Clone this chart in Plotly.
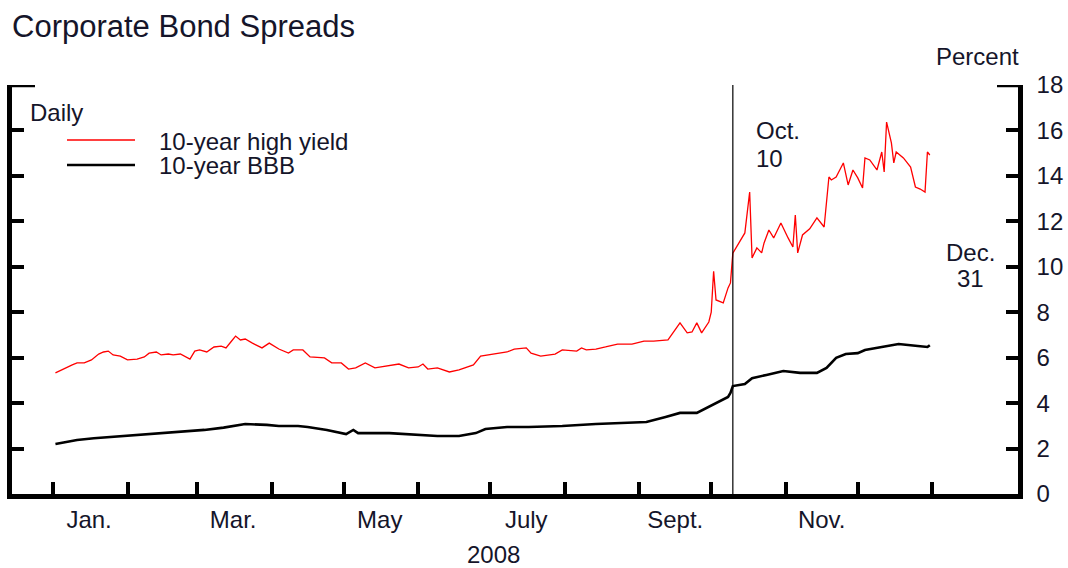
"""Corporate bond spreads, 2008 (daily)."""

import plotly.graph_objects as go

HY_DATES = [
    "2008-01-02", "2008-01-06", "2008-01-09", "2008-01-11", "2008-01-14", "2008-01-17",
    "2008-01-20", "2008-01-22", "2008-01-24", "2008-01-26", "2008-01-29", "2008-02-01",
    "2008-02-05", "2008-02-08", "2008-02-10", "2008-02-13", "2008-02-15", "2008-02-18",
    "2008-02-20", "2008-02-23", "2008-02-27", "2008-02-29", "2008-03-02", "2008-03-05",
    "2008-03-08", "2008-03-11", "2008-03-13", "2008-03-15", "2008-03-17", "2008-03-19",
    "2008-03-21", "2008-03-24", "2008-03-28", "2008-03-31", "2008-04-04", "2008-04-08",
    "2008-04-10", "2008-04-14", "2008-04-17", "2008-04-23", "2008-04-26", "2008-04-30",
    "2008-05-03", "2008-05-06", "2008-05-10", "2008-05-14", "2008-05-18", "2008-05-24",
    "2008-05-28", "2008-06-01", "2008-06-03", "2008-06-05", "2008-06-09", "2008-06-14",
    "2008-06-18", "2008-06-22", "2008-06-24", "2008-06-27", "2008-06-30", "2008-07-04",
    "2008-07-08", "2008-07-11", "2008-07-16", "2008-07-18", "2008-07-22", "2008-07-28",
    "2008-07-31", "2008-08-06", "2008-08-08", "2008-08-10", "2008-08-14", "2008-08-18",
    "2008-08-23", "2008-08-29", "2008-09-03", "2008-09-07", "2008-09-13", "2008-09-18",
    "2008-09-21", "2008-09-23", "2008-09-25", "2008-09-27", "2008-09-30", "2008-10-01",
    "2008-10-02", "2008-10-03", "2008-10-06", "2008-10-08", "2008-10-09", "2008-10-10",
    "2008-10-15", "2008-10-17", "2008-10-18", "2008-10-20", "2008-10-22", "2008-10-23",
    "2008-10-25", "2008-10-27", "2008-10-30", "2008-11-02", "2008-11-04", "2008-11-05",
    "2008-11-06", "2008-11-08", "2008-11-11", "2008-11-14", "2008-11-17", "2008-11-19",
    "2008-11-20", "2008-11-22", "2008-11-25", "2008-11-27", "2008-11-29", "2008-12-01",
    "2008-12-03", "2008-12-04", "2008-12-06", "2008-12-09", "2008-12-11", "2008-12-12",
    "2008-12-13", "2008-12-15", "2008-12-16", "2008-12-17", "2008-12-20", "2008-12-23",
    "2008-12-25", "2008-12-27", "2008-12-29", "2008-12-30", "2008-12-31",
]
HY_VALUES = [
    5.33, 5.55, 5.68, 5.77, 5.77, 5.90,
    6.16, 6.25, 6.29, 6.12, 6.07, 5.90,
    5.94, 6.03, 6.20, 6.25, 6.12, 6.16,
    6.12, 6.16, 5.94, 6.29, 6.34, 6.25,
    6.47, 6.51, 6.43, 6.69, 6.95, 6.78,
    6.82, 6.64, 6.43, 6.64, 6.38, 6.20,
    6.34, 6.34, 6.03, 5.99, 5.77, 5.77,
    5.50, 5.55, 5.77, 5.55, 5.63, 5.72,
    5.55, 5.59, 5.72, 5.50, 5.55, 5.37,
    5.46, 5.59, 5.68, 6.07, 6.12, 6.20,
    6.25, 6.38, 6.43, 6.20, 6.07, 6.16,
    6.34, 6.29, 6.43, 6.34, 6.38, 6.47,
    6.60, 6.60, 6.73, 6.73, 6.78, 7.53,
    7.09, 7.13, 7.53, 7.09, 7.57, 8.00,
    9.80, 8.54, 8.41, 9.07, 9.29, 10.60,
    11.49, 13.29, 10.39, 10.83, 10.61, 11.05,
    11.62, 11.27, 11.93, 11.27, 10.87, 12.28,
    10.61, 11.40, 11.67, 12.15, 11.75, 13.95,
    13.82, 13.95, 14.57, 13.60, 14.26, 13.91,
    13.47, 14.79, 14.70, 14.26, 15.05, 14.17,
    16.37, 15.45, 14.57, 15.05, 14.79, 14.39,
    13.51, 13.42, 13.29, 15.05, 14.92,
]

BBB_DATES = [
    "2008-01-02", "2008-01-11", "2008-01-18", "2008-01-25", "2008-02-04", "2008-02-17",
    "2008-03-04", "2008-03-12", "2008-03-21", "2008-03-30", "2008-04-04", "2008-04-12",
    "2008-04-16", "2008-04-24", "2008-05-02", "2008-05-05", "2008-05-07", "2008-05-20",
    "2008-06-01", "2008-06-09", "2008-06-18", "2008-06-25", "2008-06-29", "2008-07-08",
    "2008-07-17", "2008-07-31", "2008-08-14", "2008-08-28", "2008-09-04", "2008-09-12",
    "2008-09-18", "2008-09-25", "2008-09-30", "2008-10-04", "2008-10-08", "2008-10-09",
    "2008-10-10", "2008-10-15", "2008-10-18", "2008-10-24", "2008-10-31", "2008-11-07",
    "2008-11-14", "2008-11-18", "2008-11-22", "2008-11-26", "2008-12-01", "2008-12-04",
    "2008-12-11", "2008-12-18", "2008-12-26", "2008-12-30", "2008-12-31",
]
BBB_VALUES = [
    2.20, 2.38, 2.45, 2.51, 2.60, 2.68,
    2.82, 2.92, 3.08, 3.04, 2.99, 2.99,
    2.95, 2.82, 2.64, 2.82, 2.68, 2.68,
    2.60, 2.55, 2.55, 2.68, 2.86, 2.95,
    2.95, 2.99, 3.08, 3.12, 3.17, 3.39,
    3.57, 3.57, 3.83, 4.05, 4.27, 4.45,
    4.75, 4.84, 5.10, 5.24, 5.41, 5.33,
    5.33, 5.55, 5.99, 6.16, 6.20, 6.34,
    6.47, 6.60, 6.51, 6.47, 6.55,
]

MONTH_STARTS = [f"2008-{m:02d}-01" for m in range(1, 13)] + ["2009-01-01"]
LABEL_DATES = ["2008-01-16", "2008-03-16", "2008-05-16", "2008-07-16", "2008-09-16", "2008-11-16"]
LABEL_TEXT = ["Jan.", "Mar.", "May", "July", "Sept.", "Nov."]
Y_TICKS = list(range(0, 19, 2))

EVENT_DATE = "2008-10-10"

FONT = "Arial, 'Liberation Sans', sans-serif"
TEXT = "#15152a"

# plot area in page pixels: x 12..1018, y 85..494
W, H = 1068, 568
L, R, T, B = 12, 1018, 85, 494


def px(x):
    return (x - L) / (R - L)


def py(y):
    return (B - y) / (B - T)


fig = go.Figure()

fig.add_trace(go.Scatter(
    x=HY_DATES, y=HY_VALUES, mode="lines",
    line=dict(color="#ff0000", width=1.3),
    name="10-year high yield",
))
fig.add_trace(go.Scatter(
    x=BBB_DATES, y=BBB_VALUES, mode="lines",
    line=dict(color="#000000", width=2.6),
    name="10-year BBB",
))

shapes = [
    # Oct. 10 marker
    dict(type="line", xref="x", yref="y", x0=EVENT_DATE, x1=EVENT_DATE, y0=0, y1=18,
         line=dict(color="black", width=1.2)),
    # longer top ticks
    dict(type="line", xref="paper", yref="y", x0=0, x1=px(35), y0=18, y1=18,
         line=dict(color="black", width=4.5)),
    dict(type="line", xref="paper", yref="y", x0=px(997), x1=1, y0=18, y1=18,
         line=dict(color="black", width=4.5)),
    # legend keys
    dict(type="line", xref="paper", yref="paper", x0=px(67), x1=px(135), y0=py(140), y1=py(140),
         line=dict(color="#ff0000", width=1.3)),
    dict(type="line", xref="paper", yref="paper", x0=px(67), x1=px(135), y0=py(165), y1=py(165),
         line=dict(color="black", width=2.6)),
]

font = dict(family=FONT, size=24, color=TEXT)
annotations = [
    dict(text="Corporate Bond Spreads", x=px(10), y=py(27), xanchor="left", yanchor="middle",
         font=dict(family=FONT, size=31, color=TEXT)),
    dict(text="Percent", x=px(977), y=py(57), xanchor="center", yanchor="middle", font=font),
    dict(text="Daily", x=px(28), y=py(112), xanchor="left", yanchor="middle", font=font),
    dict(text="10-year high yield", x=px(157), y=py(141), xanchor="left", yanchor="middle", font=font),
    dict(text="10-year BBB", x=px(157), y=py(165), xanchor="left", yanchor="middle", font=font),
    dict(text="Oct.", x=px(754), y=py(130), xanchor="left", yanchor="middle", font=font),
    dict(text="10", x=px(754), y=py(159), xanchor="left", yanchor="middle", font=font),
    dict(text="Dec.", x=px(970), y=py(252), xanchor="center", yanchor="middle", font=font),
    dict(text="31", x=px(970), y=py(278), xanchor="center", yanchor="middle", font=font),
    dict(text="2008", x=px(493), y=py(554), xanchor="center", yanchor="middle", font=font),
]
for a in annotations:
    a.update(xref="paper", yref="paper", showarrow=False)

fig.update_layout(
    width=W, height=H,
    margin=dict(l=L, r=W - R, t=T, b=H - B, autoexpand=False),
    paper_bgcolor="white", plot_bgcolor="white",
    showlegend=False,
    font=dict(family=FONT, size=24, color=TEXT),
    shapes=shapes,
    annotations=annotations,
    xaxis=dict(
        type="date",
        range=["2007-12-14 22:00", "2009-02-05 17:00"],
        automargin=False,
        showgrid=False, zeroline=False,
        showline=True, linecolor="black", linewidth=4.5,
        tickmode="array", tickvals=LABEL_DATES, ticktext=LABEL_TEXT,
        ticks="", ticklabelstandoff=0,
        tickfont=dict(family=FONT, size=24, color=TEXT),
        minor=dict(tickmode="array", tickvals=MONTH_STARTS, ticks="inside",
                   ticklen=12, tickwidth=4, tickcolor="black", showgrid=False),
    ),
    yaxis=dict(
        range=[0, 18], side="right",
        automargin=False,
        showgrid=False, zeroline=False,
        showline=True, linecolor="black", linewidth=4.5, mirror="ticks",
        tickmode="array", tickvals=Y_TICKS,
        ticks="inside", ticklen=12, tickwidth=4, tickcolor="black",
        ticklabelstandoff=9,
        tickfont=dict(family=FONT, size=24, color=TEXT),
    ),
)

# the page body has a default 8px margin; drop it so the figure fills the window
fig.write_html(
    "out.html",
    config={"displayModeBar": False},
    post_script="document.body.style.margin='0';document.body.style.overflow='hidden';",
)
